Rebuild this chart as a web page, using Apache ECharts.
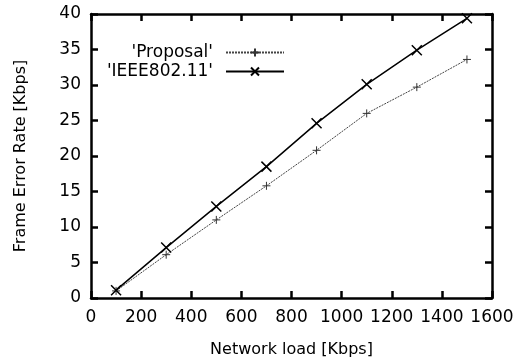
<!DOCTYPE html>
<html lang="en">
<head>
    <meta charset="UTF-8">
    <title>Frame Error Rate</title>
    <script src="https://cdn.jsdelivr.net/npm/echarts@6/dist/echarts.min.js"></script>
    <style>
        html, body { margin: 0; padding: 0; background: #fff; }
        #chart1 { width: 524px; height: 363px; }
    </style>
</head>
<body>
<div id="chart1"></div>
<script>
    var loads = [100, 300, 500, 700, 900, 1100, 1300, 1500];
    var proposal = [1.0, 6.1, 11.0, 15.8, 20.8, 26.0, 29.7, 33.6];
    var ieee = [1.1, 7.1, 12.9, 18.5, 24.6, 30.1, 34.9, 39.4];
    var xTicks = [0, 200, 400, 600, 800, 1000, 1200, 1400, 1600];
    var yTicks = [0, 5, 10, 15, 20, 25, 30, 35, 40];

    var font = 'DejaVu Sans';
    var plusIcon = 'path://M0,-1L0,1M-1,0L1,0';
    var crossIcon = 'path://M-1,-1L1,1M-1,1L1,-1';

    function pairs(ys) {
        return loads.map(function (x, i) { return [x, ys[i]]; });
    }

    var frame = { show: true, onZero: false, lineStyle: { color: '#000', width: 2.5 } };
    var ticksIn = { show: true, inside: true, length: 7, lineStyle: { color: '#000', width: 2.5 } };

    function xAxis(pos, showLabels) {
        return {
            type: 'value', position: pos, min: xTicks[0], max: xTicks[xTicks.length - 1], interval: 200,
            axisLine: frame, axisTick: ticksIn, splitLine: { show: false },
            axisLabel: {
                show: showLabels, color: '#000', fontFamily: font, fontSize: 17, margin: 11,
                formatter: function (v) { return String(v); }
            },
            name: showLabels ? 'Network load [Kbps]' : '', nameLocation: 'middle', nameGap: 44,
            nameTextStyle: { color: '#000', fontFamily: font, fontSize: 16 }
        };
    }

    function yAxis(pos, showLabels) {
        return {
            type: 'value', position: pos, min: yTicks[0], max: yTicks[yTicks.length - 1], interval: 5,
            axisLine: frame, axisTick: ticksIn, splitLine: { show: false },
            axisLabel: {
                show: showLabels, color: '#000', fontFamily: font, fontSize: 17, margin: 10,
                formatter: function (v) { return String(v); }
            },
            name: showLabels ? 'Frame Error Rate [Kbps]' : '', nameLocation: 'middle', nameGap: 62,
            nameTextStyle: { color: '#000', fontFamily: font, fontSize: 16 }
        };
    }

    function legendFor(name, top) {
        return {
            data: [name], orient: 'vertical', align: 'right', right: 234, top: top,
            itemWidth: 58, itemHeight: 10, itemGap: 0,
            textStyle: { color: '#000', fontFamily: font, fontSize: 17, padding: [0, 8, 0, 0] }
        };
    }

    var ctx1 = echarts.init(document.getElementById('chart1'));
    ctx1.setOption({
        animation: false,
        backgroundColor: '#fff',
        grid: { left: 91, right: 32, top: 14, bottom: 63 },
        xAxis: [xAxis('bottom', true), xAxis('top', false)],
        yAxis: [yAxis('left', true), yAxis('right', false)],
        legend: [legendFor("'Proposal'", 39), legendFor("'IEEE802.11'", 58)],
        series: [
            {
                name: "'Proposal'", type: 'line', data: pairs(proposal),
                symbol: plusIcon, symbolSize: 8,
                lineStyle: { color: '#444', width: 1, type: [2, 1] },
                itemStyle: { color: 'none', borderColor: '#333', borderWidth: 1 }
            },
            {
                name: "'IEEE802.11'", type: 'line', data: pairs(ieee),
                symbol: crossIcon, symbolSize: 10,
                lineStyle: { color: '#000', width: 1.5 },
                itemStyle: { color: 'none', borderColor: '#000', borderWidth: 1.5 }
            }
        ]
    });
</script>
</body>
</html>
